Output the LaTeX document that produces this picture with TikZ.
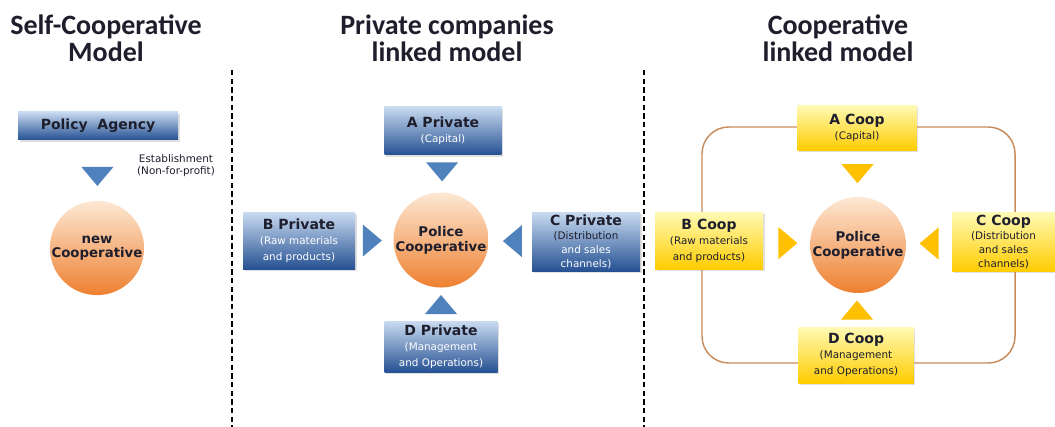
\documentclass[tikz,border=0pt]{standalone}
\usepackage{fontspec}
\setmainfont{DejaVu Sans}
\newfontfamily\titlefont{Carlito}
\usetikzlibrary{calc,backgrounds,shadows}

\definecolor{privtop}{RGB}{200,218,240}
\definecolor{privmid}{RGB}{92,140,204}
\definecolor{privbot}{RGB}{36,80,146}
\definecolor{cooptop}{RGB}{255,250,180}
\definecolor{coopmid}{RGB}{255,232,90}
\definecolor{coopbot}{RGB}{255,204,0}
\definecolor{balltop}{RGB}{253,232,212}
\definecolor{ballmid}{RGB}{246,172,112}
\definecolor{ballbot}{RGB}{238,128,48}
\definecolor{triblue}{RGB}{79,129,189}
\definecolor{triyellow}{RGB}{255,192,0}
\definecolor{looporange}{RGB}{200,140,92}
\definecolor{inkdark}{RGB}{30,30,45}

\newcommand{\boxhead}[1]{{\fontsize{10.5}{11}\selectfont\bfseries #1}}
\newcommand{\boxsub}[1]{{\fontsize{7.8}{8.8}\selectfont #1}}

\tikzset{
  modeltitle/.style={align=center, text=inkdark, font={\titlefont\fontsize{21}{20}\selectfont\bfseries}},
  sepline/.style={dash pattern=on 4pt off 2.5pt, line width=0.9pt},
  privbox/.style={rectangle, top color=privtop, middle color=privmid, bottom color=privbot,
    text=inkdark, align=center, inner sep=1pt,
    drop shadow={shadow xshift=1.2pt, shadow yshift=-1.2pt, opacity=0.25}},
  coopbox/.style={rectangle, top color=cooptop, middle color=coopmid, bottom color=coopbot,
    text=inkdark, align=center, inner sep=1pt,
    drop shadow={shadow xshift=1.2pt, shadow yshift=-1.2pt, opacity=0.25}},
  coopball/.style={circle, top color=balltop, middle color=ballmid, bottom color=ballbot,
    minimum size=70pt, inner sep=0pt, align=center, text=inkdark,
    font={\fontsize{10}{11}\selectfont\bfseries}},
  cooploop/.style={draw=looporange, line width=1.1pt, rounded corners=20pt},
  pics/tri/.style={code={\fill[#1] (-9.5,-16) -- (9.5,0) -- (-9.5,16) -- cycle;}}
}

\begin{document}
\begin{tikzpicture}[x=0.75pt,y=0.75pt,yscale=-1,xscale=1]
\useasboundingbox (0,0) rectangle (1055,427);

% Text Node
\node[modeltitle] (selftitle) at (106,38) {Self-Cooperative\\Model};
% Text Node
\node[modeltitle] (privtitle) at (447,38) {Private companies\\linked model};
% Text Node
\node[modeltitle] (cooptitle) at (838,38) {Cooperative\\linked model};

%Straight Lines: separators
\coordinate (sepa top) at (232,70);
\coordinate (sepa bot) at (232,427);
\coordinate (sepb top) at (644,70);
\coordinate (sepb bot) at (644,427);
\draw[sepline] (sepa top) -- (sepa bot);
\draw[sepline] (sepb top) -- (sepb bot);

%Shape: self-cooperative model
\node[privbox, minimum width=120pt, minimum height=21pt] (agency) at (98,126) {\boxhead{Policy\ \ Agency}};
\node[coopball] (newcoop) at (97,248) {new\\Cooperative};
\pic[rotate=-90] at ($(agency.south)!0.6!(newcoop.north)$) {tri=triblue};
% Text Node
\node[align=center, font={\fontsize{7.8}{9}\selectfont}, text=inkdark] (establish) at (176,166) {Establishment\\(Non-for-profit)};

%Shape: private companies linked model
\node[coopball] (privpolice) at (441,240) {Police\\Cooperative};
\node[privbox, minimum width=87.75pt, minimum height=36pt] (apriv) at (443,131)
  {\boxhead{A Private}\\[-1pt]\boxsub{\color{white}(Capital)}};
\node[privbox, minimum width=84pt, minimum height=42.75pt] (bpriv) at (299,241)
  {\boxhead{B Private}\\[-1pt]\color{white}\boxsub{(Raw materials}\\\color{white}\boxsub{and products)}};
\node[privbox, minimum width=81pt, minimum height=44.25pt] (cpriv) at (586,242)
  {\boxhead{C Private}\\[-2pt]\boxsub{(Distribution}\\[-1.5pt]\color{white}\boxsub{and sales}\\[-1.5pt]\color{white}\boxsub{channels)}};
\node[privbox, minimum width=84.75pt, minimum height=38.25pt] (dpriv) at (441,347)
  {\boxhead{D Private}\\[-1pt]\color{white}\boxsub{(Management}\\\color{white}\boxsub{and Operations)}};
\pic[rotate=-90] at ($(apriv.south)!0.45!(privpolice.north)$) {tri=triblue};
\pic[rotate=0] at ($(bpriv.east)!0.45!(privpolice.west)$) {tri=triblue};
\pic[rotate=180] at ($(cpriv.west)!0.45!(privpolice.east)$) {tri=triblue};
\pic[rotate=90] at ($(dpriv.north)!0.5!(privpolice.south)$) {tri=triblue};

%Shape: cooperative linked model
\node[coopball, minimum size=72pt] (cooppolice) at (858,245) {Police\\Cooperative};
\node[coopbox, minimum width=89.25pt, minimum height=33.75pt] (acoop) at (857,128)
  {\boxhead{A Coop}\\[-1pt]\boxsub{(Capital)}};
\node[coopbox, minimum width=81pt, minimum height=42.75pt] (bcoop) at (709,241)
  {\boxhead{B Coop}\\[-1pt]\boxsub{(Raw materials}\\\boxsub{and products)}};
\node[coopbox, minimum width=77.25pt, minimum height=44.25pt] (ccoop) at (1003.5,242)
  {\boxhead{C Coop}\\[-2pt]\boxsub{(Distribution}\\[-1.5pt]\boxsub{and sales}\\[-1.5pt]\boxsub{channels)}};
\node[coopbox, minimum width=86.25pt, minimum height=42pt] (dcoop) at (856,355)
  {\boxhead{D Coop}\\[-1pt]\boxsub{(Management}\\\boxsub{and Operations)}};
\pic[rotate=-90] at ($(acoop.south)!0.5!(cooppolice.north)$) {tri=triyellow};
\pic[rotate=0] at ($(bcoop.east)!0.53!(cooppolice.west)$) {tri=triyellow};
\pic[rotate=180] at ($(ccoop.west)!0.5!(cooppolice.east)$) {tri=triyellow};
\pic[rotate=90] at ($(dcoop.north)!0.5!(cooppolice.south)$) {tri=triyellow};

%Shape: loop round the cooperatives
\coordinate (loop nw) at (702,127);
\coordinate (loop se) at (1015,363);
\begin{scope}[on background layer]
\draw[cooploop] (loop nw) rectangle (loop se);
\end{scope}

\end{tikzpicture}
\end{document}
